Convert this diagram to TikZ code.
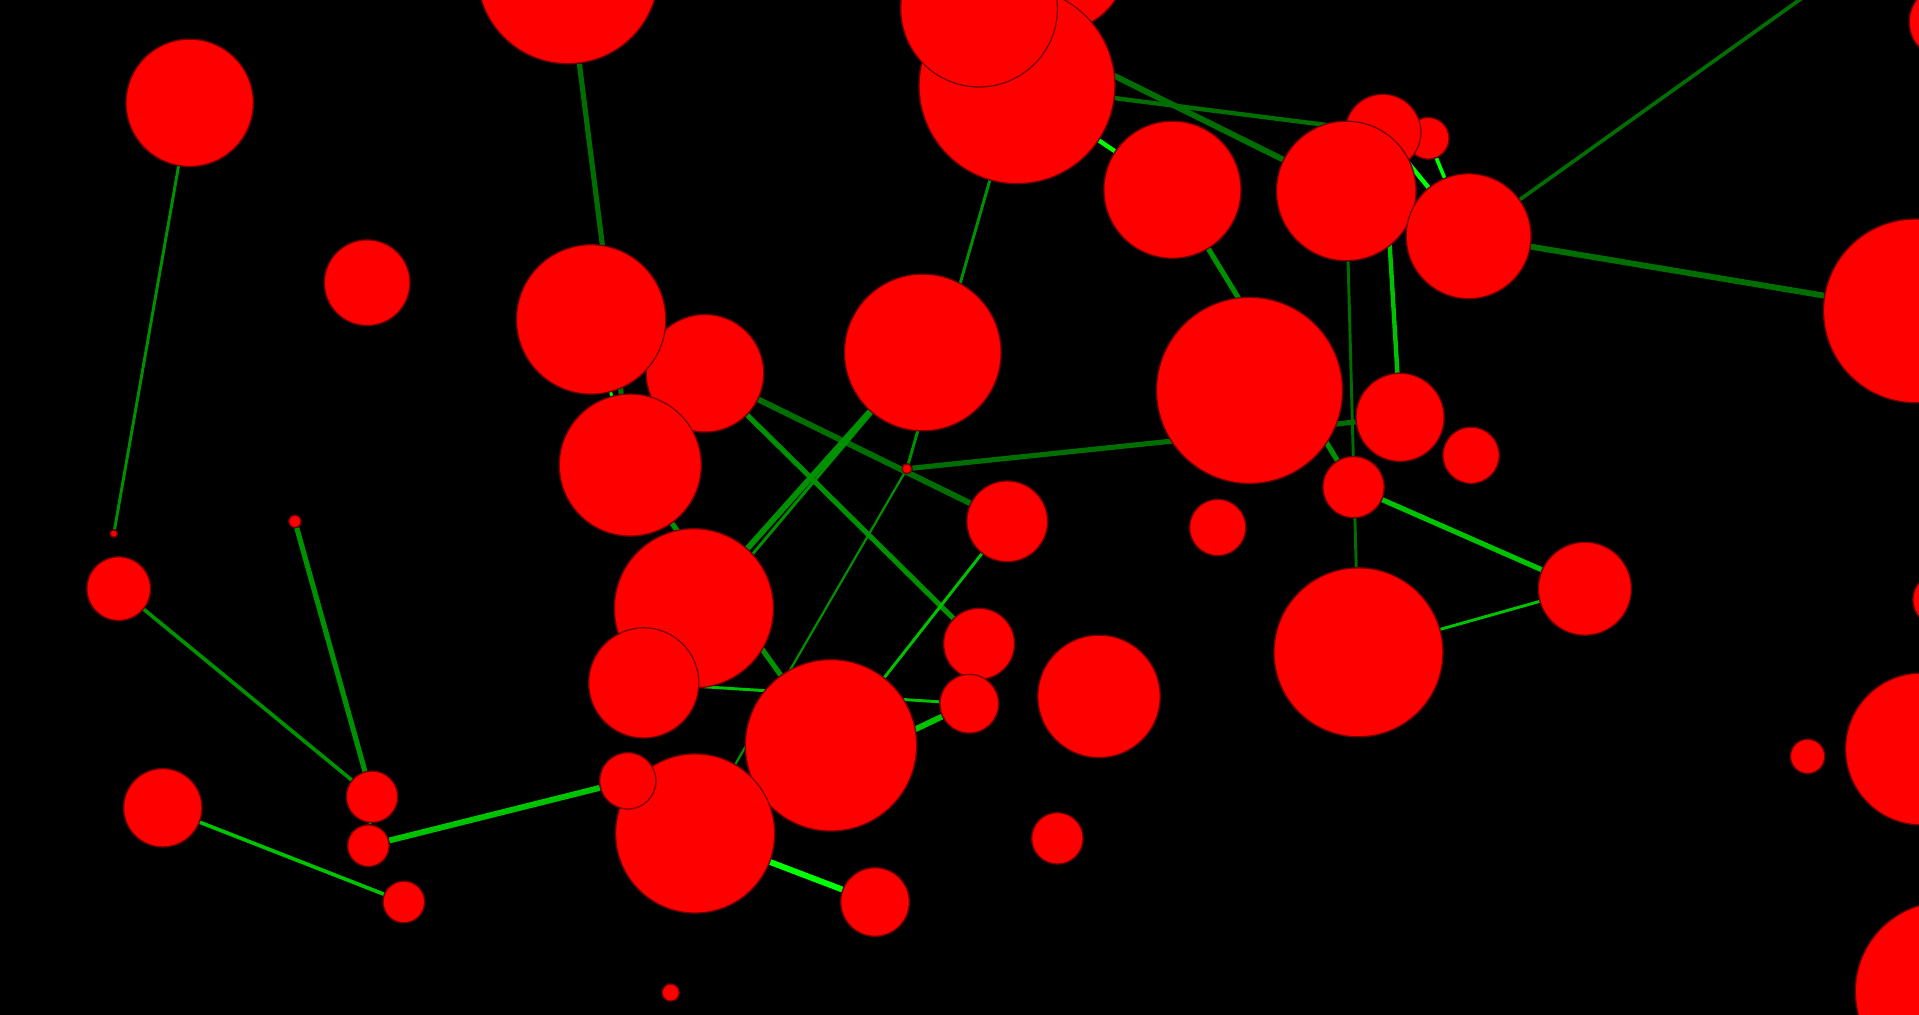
\documentclass[tikz,border=0pt]{standalone}
\usetikzlibrary{backgrounds}
\pgfdeclarelayer{edgelayer}
\pgfsetlayers{background,edgelayer,main}
\definecolor{gdark}{RGB}{0,110,0}
\definecolor{gmid}{RGB}{0,145,0}
\definecolor{gbright}{RGB}{0,195,0}
\definecolor{glime}{RGB}{0,255,0}
\tikzset{
  dot/.style={circle, fill=red, draw=black!55!red, line width=0.3pt, inner sep=0pt, minimum size={0.2mm*#1}},
  link/.style={line width={0.12mm*#1}},
}
\begin{document}
\begin{tikzpicture}[x=0.01cm, y=-0.01cm]
  \useasboundingbox (0,0) rectangle (1568,829);
  \begin{pgfonlayer}{background}
    \fill[black] (0,0) rectangle (1568,829);
  \end{pgfonlayer}
  % upper cluster
  \node[dot=74] (ta) at (464,-22) {};
  \node[dot=55] (tj) at (865,-30) {};
  \node[dot=80] (h) at (831,70) {};
  \node[dot=64] (i) at (800,7) {};
  \node[dot=52] (b) at (155,84) {};
  \node[dot=35] (c) at (300,231) {};
  \node[dot=48] (e) at (576,305) {};
  \node[dot=61] (d) at (483,261) {};
  \node[dot=58] (f) at (515,380) {};
  \node[dot=64] (g) at (754,288) {};
  \node[dot=56] (k) at (958,155) {};
  \node[dot=17] (m) at (1167,113) {};
  \node[dot=31] (l) at (1130,108) {};
  \node[dot=57] (n) at (1100,156) {};
  \node[dot=51] (o) at (1200,193) {};
  \node[dot=76] (p) at (1021,319) {};
  \node[dot=36] (q) at (1144,341) {};
  \node[dot=23] (r) at (1202,372) {};
  \node[dot=25] (s) at (1106,398) {};
  \node[dot=23] (t) at (995,431) {};
  \node[dot=33] (u) at (823,426) {};
  \node[dot=38] (v) at (1295,481) {};
  \node[dot=69] (w) at (1110,533) {};
  % right edge
  \node[dot=75] (x) at (1565,254) {};
  \node[dot=30] (y) at (1590,18) {};
  \node[dot=62] (z) at (1570,612) {};
  \node[dot=22] (zs) at (1585,490) {};
  \node[dot=73] (zb) at (1589,810) {};
  \node[dot=14] (zt) at (1477,618) {};
  \coordinate (ofs) at (1620,-107);
  % lower cluster
  \node[dot=50] (aa) at (898,569) {};
  \node[dot=21] (ab) at (864,685) {};
  \node[dot=29] (ac) at (800,526) {};
  \node[dot=24] (ad) at (792,575) {};
  \node[dot=70] (ae) at (679,609) {};
  \node[dot=65] (af) at (567,497) {};
  \node[dot=45] (ag) at (526,558) {};
  \node[dot=65] (ah) at (568,681) {};
  \node[dot=23] (ai) at (513,638) {};
  \node[dot=28] (aj) at (715,737) {};
  \node[dot=7] (ak) at (548,811) {};
  \node[dot=4] (hub) at (741,383) {};
  % left group
  \node[dot=26] (bl) at (97,481) {};
  \node[dot=3] (bs) at (93,436) {};
  \node[dot=5] (bt) at (241,426) {};
  \node[dot=21] (bu) at (304,651) {};
  \node[dot=17] (bv) at (301,691) {};
  \node[dot=32] (bw) at (133,660) {};
  \node[dot=17] (bx) at (330,737) {};
  \begin{pgfonlayer}{edgelayer}
    \draw[gmid, link=2] (b) -- (bs);
    \draw[gdark, link=3.5] (ta) -- (f);
    \draw[gmid, link=2] (h) -- (hub);
    \draw[gdark, link=4] (i) -- (n);
    \draw[gdark, link=3] (h) -- (l);
    \draw[glime, link=3] (h) -- (k);
    \draw[glime, link=3] (l) -- (o);
    \draw[glime, link=2.5] (m) -- (o);
    \draw[gdark, link=4] (o) -- (x);
    \draw[gdark, link=2.5] (o) -- (ofs);
    \draw[gbright, link=3] (l) -- (q);
    \draw[gdark, link=2] (n) -- (w);
    \draw[gbright, link=3.5] (s) -- (v);
    \draw[gbright, link=2] (w) -- (v);
    \draw[gmid, link=3.5] (k) -- (s);
    \draw[gdark, link=3.5] (hub) -- (q);
    \draw[gdark, link=4] (e) -- (u);
    \draw[gmid, link=3.5] (e) -- (ac);
    \draw[gmid, link=1.5] (hub) -- (ah);
    \draw[gmid, link=4] (g) -- (af);
    \draw[gmid, link=2] (g) -- (ag);
    \draw[glime, link=2] (d) -- (f);
    \draw[gmid, link=3.5] (f) -- (ae);
    \draw[gbright, link=2] (ag) -- (ad);
    \draw[gbright, link=4] (ah) -- (ad);
    \draw[gbright, link=2] (u) -- (ae);
    \draw[glime, link=4] (ah) -- (aj);
    \draw[gbright, link=4] (ai) -- (bv);
    \draw[gmid, link=2.5] (bu) -- (bl);
    \draw[gmid, link=3.5] (bu) -- (bt);
    \draw[gbright, link=2.5] (bw) -- (bx);
    \draw[gmid, link=2] (bu) -- (bv);
  \end{pgfonlayer}
\end{tikzpicture}
\end{document}
